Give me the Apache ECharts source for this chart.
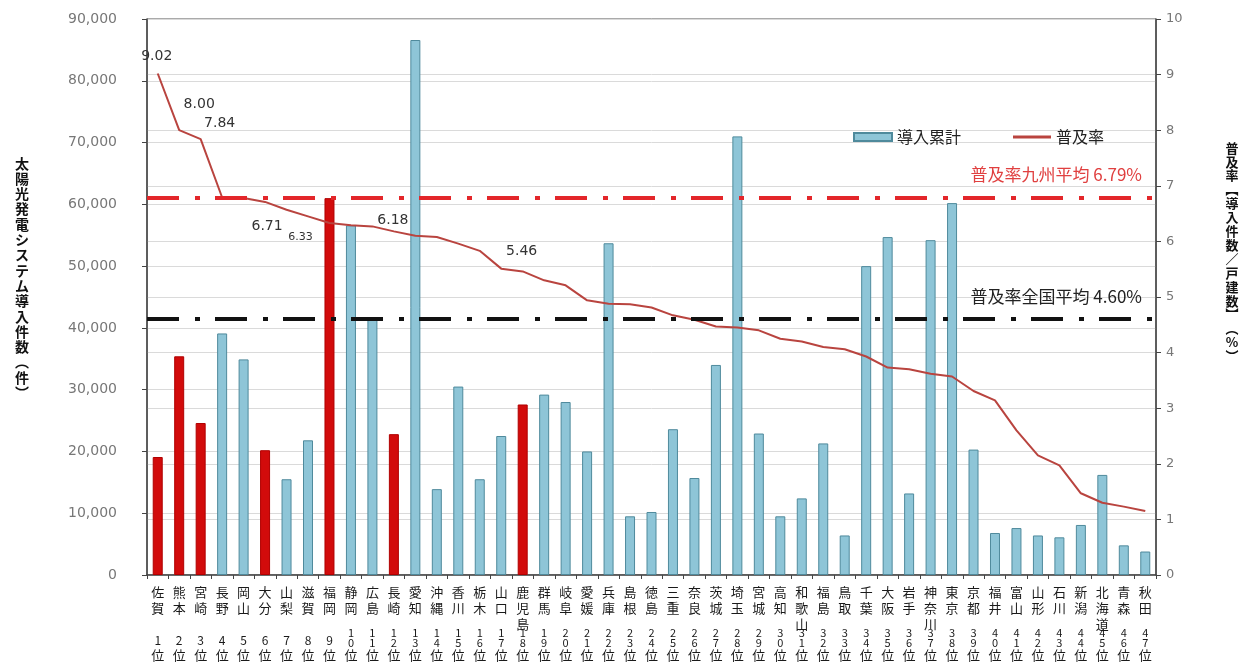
<!DOCTYPE html>
<html>
<head>
<meta charset="utf-8">
<script src="https://cdn.jsdelivr.net/npm/echarts@6/dist/echarts.min.js"></script>
<style>
  html, body { margin: 0; padding: 0; background: #ffffff; }
  #chart { width: 1250px; height: 666px; }
</style>
</head>
<body>
<div id="chart"></div>
<script>
// Prefectures ordered by penetration-rate rank
const prefectures = ['佐賀','熊本','宮崎','長野','岡山','大分','山梨','滋賀','福岡','静岡','広島','長崎','愛知','沖縄','香川','栃木','山口','鹿児島','群馬','岐阜','愛媛','兵庫','島根','徳島','三重','奈良','茨城','埼玉','宮城','高知','和歌山','福島','鳥取','千葉','大阪','岩手','神奈川','東京','京都','福井','富山','山形','石川','新潟','北海道','青森','秋田'];

// Kyushu prefectures, drawn in red
const kyushu = ['佐賀','熊本','宮崎','大分','福岡','長崎','鹿児島'];

// Cumulative solar installations (件)
const installs = [19100, 35400, 24600, 39100, 34900, 20200, 15500, 21800, 61000, 56600,
                  41700, 22800, 86600, 13900, 30500, 15500, 22500, 27600, 29200, 28000,
                  20000, 53700, 9500, 10200, 23600, 15700, 34000, 71000, 22900, 9500,
                  12400, 21300, 6400, 50000, 54700, 13200, 54200, 60200, 20300, 6800,
                  7600, 6400, 6100, 8100, 16200, 4800, 3800];

// Penetration rate (%)
const rates = [9.02, 8.00, 7.84, 6.79, 6.78, 6.71, 6.57, 6.45, 6.33, 6.29,
               6.27, 6.18, 6.10, 6.08, 5.96, 5.83, 5.51, 5.46, 5.30, 5.21,
               4.94, 4.88, 4.87, 4.81, 4.67, 4.59, 4.47, 4.45, 4.40, 4.25,
               4.20, 4.10, 4.06, 3.93, 3.73, 3.70, 3.62, 3.57, 3.31, 3.14,
               2.60, 2.15, 1.97, 1.47, 1.30, 1.23, 1.15];

const kyushuAverage = 6.79;
const nationalAverage = 4.60;

const leftTitle = '太陽光発電システム導入件数︵件︶';
const rightTitle = '普及率︻導入件数／戸建数︼︵%︶';

// Label placement for the annotated Kyushu points (pixel offsets from the point)
const rateLabelOffsets = {
  '佐賀': [-1, -17], '熊本': [20, -26], '宮崎': [19, -16], '大分': [2, 24],
  '福岡': [-29, 14], '長崎': [-1, -11], '鹿児島': [-1, -20]
};

const RED = '#d20b0b';
const BLUE = '#8ec5d7';
const BLUE_EDGE = '#4f8a9c';
const LINE = '#b9443f';
const NUM_FONT = '"DejaVu Sans", sans-serif';
const JP_FONT = '"Noto Sans CJK JP", sans-serif';
const dashDot = [32, 16, 5, 15];

const barData = installs.map((v, i) => kyushu.includes(prefectures[i])
  ? { value: v, itemStyle: { color: RED, borderColor: '#b00000' } }
  : v);

const lineData = rates.map((v, i) => {
  const name = prefectures[i];
  if (!rateLabelOffsets[name]) return v;
  return {
    value: v,
    label: {
      show: true,
      position: 'inside',
      offset: rateLabelOffsets[name],
      fontSize: name === '福岡' ? 11 : 14
    }
  };
});

const chart = echarts.init(document.getElementById('chart'), null, { renderer: 'canvas' });

chart.setOption({
  animation: false,
  backgroundColor: '#ffffff',
  textStyle: { fontFamily: JP_FONT },
  grid: {
    left: 147, right: 94, top: 19, bottom: 91,
    show: true, borderColor: '#555', borderWidth: 1
  },
  legend: {
    left: 848, top: 124,
    itemWidth: 38, itemHeight: 8, itemGap: 52,
    symbolKeepAspect: true,
    textStyle: { fontSize: 16, color: '#222', fontFamily: JP_FONT },
    data: [
      { name: '導入累計', icon: 'rect' },
      { name: '普及率', icon: 'path://M0,0h40v3H0z' }
    ]
  },
  xAxis: [
    {
      type: 'category',
      data: prefectures,
      axisLine: { lineStyle: { color: '#444', width: 1.5 } },
      axisTick: { show: true, length: 4, lineStyle: { color: '#444' } },
      axisLabel: {
        interval: 0,
        margin: 9,
        color: '#1a1a1a',
        fontSize: 13,
        lineHeight: 16,
        fontFamily: JP_FONT,
        formatter: name => name.split('').join('\n')
      }
    },
    {
      type: 'category',
      data: prefectures,
      position: 'bottom',
      axisLine: { show: false },
      axisTick: { show: false },
      axisLabel: {
        interval: 0,
        margin: 87,
        verticalAlign: 'bottom',
        color: '#1a1a1a',
        fontFamily: JP_FONT,
        formatter: (v, i) => {
          const r = String(i + 1);
          const cls = r.length > 1 ? 'd2' : 'd1';
          return r.split('').map(c => '{' + cls + '|' + c + '}').join('\n') + '\n{w|位}';
        },
        rich: {
          d1: { fontSize: 12, lineHeight: 15, fontFamily: JP_FONT, color: '#1a1a1a' },
          d2: { fontSize: 11, lineHeight: 10, fontFamily: JP_FONT, color: '#1a1a1a' },
          w: { fontSize: 13, lineHeight: 14, fontFamily: JP_FONT, color: '#1a1a1a' }
        }
      }
    }
  ],
  yAxis: [
    {
      type: 'value',
      min: 0, max: 90000, interval: 10000,
      position: 'left',
      axisLine: { show: true, lineStyle: { color: '#444', width: 1.5 } },
      axisTick: { show: true, length: 5, lineStyle: { color: '#444' } },
      axisLabel: {
        margin: 30,
        color: '#777',
        fontSize: 14,
        fontFamily: NUM_FONT,
        formatter: v => v.toLocaleString('en-US')
      },
      splitLine: { show: true, lineStyle: { color: '#dadada', width: 1 } }
    },
    {
      type: 'value',
      min: 0, max: 10, interval: 1,
      position: 'right',
      axisLine: { show: true, lineStyle: { color: '#444', width: 1.5 } },
      axisTick: { show: true, length: 5, lineStyle: { color: '#444' } },
      axisLabel: { margin: 10, color: '#777', fontSize: 13, fontFamily: NUM_FONT },
      splitLine: { show: true, lineStyle: { color: '#dadada', width: 1 } }
    }
  ],
  series: [
    {
      name: '導入累計',
      type: 'bar',
      xAxisIndex: 0,
      yAxisIndex: 0,
      barWidth: 10,
      itemStyle: { color: BLUE, borderColor: BLUE_EDGE, borderWidth: 1 },
      data: barData,
      z: 2
    },
    {
      name: '普及率',
      type: 'line',
      xAxisIndex: 0,
      yAxisIndex: 1,
      symbol: 'circle',
      symbolSize: 0,
      showSymbol: true,
      itemStyle: { color: LINE },
      lineStyle: { color: LINE, width: 2 },
      label: {
        show: false,
        color: '#333',
        fontFamily: NUM_FONT,
        formatter: p => p.value.toFixed(2)
      },
      data: lineData,
      z: 4,
      markLine: {
        silent: true,
        symbol: 'none',
        label: {
          position: 'insideEndTop',
          distance: [14, 14],
          fontSize: 17,
          fontFamily: JP_FONT
        },
        data: [
          {
            yAxis: kyushuAverage,
            lineStyle: { color: '#e3262a', width: 4, type: dashDot },
            label: { color: '#e04040', formatter: '普及率九州平均 ' + kyushuAverage.toFixed(2) + '%' }
          },
          {
            yAxis: nationalAverage,
            lineStyle: { color: '#111111', width: 4, type: dashDot },
            label: { color: '#222222', formatter: '普及率全国平均 ' + nationalAverage.toFixed(2) + '%' }
          }
        ]
      }
    }
  ],
  graphic: [
    {
      type: 'text',
      x: 22, y: 278,
      style: {
        text: leftTitle.split('').join('\n'),
        font: 'bold 14px "Noto Sans CJK JP"',
        lineHeight: 15.3,
        fill: '#111',
        align: 'center',
        verticalAlign: 'middle'
      }
    },
    {
      type: 'text',
      x: 1232, y: 252,
      style: {
        text: rightTitle.split('').join('\n'),
        font: 'bold 13px "Noto Sans CJK JP"',
        lineHeight: 13.9,
        fill: '#111',
        align: 'center',
        verticalAlign: 'middle'
      }
    }
  ]
});
</script>
</body>
</html>
